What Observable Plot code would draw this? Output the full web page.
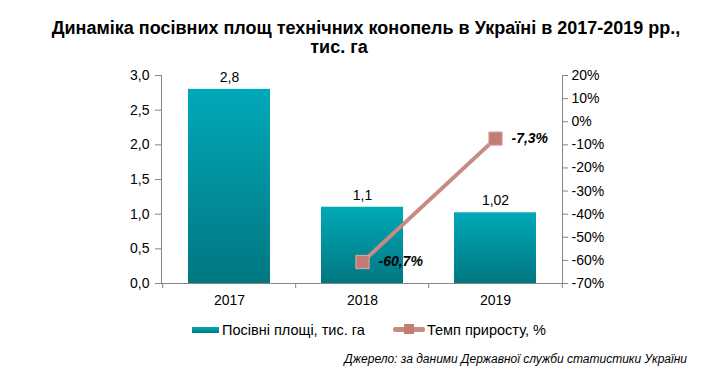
<!DOCTYPE html>
<html>
<head>
<meta charset="utf-8">
<script src="https://cdn.jsdelivr.net/npm/d3@7"></script>
<script src="https://cdn.jsdelivr.net/npm/@observablehq/plot@0.6"></script>
<style>
  html, body { margin: 0; padding: 0; background: #fff; }
  #wrap { position: relative; width: 713px; height: 371px; overflow: hidden; font-family: "Liberation Sans", Arial, sans-serif; color: #000; }
  .t { position: absolute; white-space: nowrap; font-weight: bold; font-size: 18px; line-height: 17px; text-align: center; }
  #chart { position: absolute; left: 0; top: 62px; }
  .leg { position: absolute; font-size: 14.5px; line-height: 15px; white-space: nowrap; }
  #cap { position: absolute; right: 26px; top: 353px; font-size: 12px; line-height: 12px; font-style: italic; letter-spacing: 0px; white-space: nowrap; }
</style>
</head>
<body>
<div id="wrap">
  <div class="t" style="left:0;width:732px;top:20px;">Динаміка посівних площ технічних конопель в Україні в 2017-2019 рр.,</div>
  <div class="t" style="left:0;width:678px;top:39px;">тис. га</div>
  <div id="chart"></div>
  <div id="legend"></div>
  <div id="cap">Джерело: за даними Державної служби статистики України</div>
</div>
<script>
const years = ["2017", "2018", "2019"];
const area = [2.8, 1.1, 1.02];
const areaLabels = ["2,8", "1,1", "1,02"];
const growthYears = ["2018", "2019"];
const growth = [-60.7, -7.3];
const growthLabels = ["-60,7%", "-7,3%"];
const leftTicks = [0, 0.5, 1, 1.5, 2, 2.5, 3];
const leftTickLabels = ["0,0", "0,5", "1,0", "1,5", "2,0", "2,5", "3,0"];
const rightTicks = [-70, -60, -50, -40, -30, -20, -10, 0, 10, 20];
const legendNames = ["Посівні площі, тис. га", "Темп приросту, %"];

const W = 713, H = 250, mt = 13, mb = 29, ml = 161, mr = 151;
const axisColor = "#868686";
const lineColor = "#c68b84";
const markerFill = "#c27c74";

const pct = d3.scaleLinear([-70, 20], [0, 3]);
const step = (W - ml - mr) / years.length;
const pxPerUnit = (H - mt - mb) / 3;

const bars = years.map((y, i) => ({year: y, value: area[i], label: areaLabels[i]}));
const rate = growthYears.map((y, i) => ({year: y, v: pct(growth[i]), label: growthLabels[i]}));

const defs = () => {
  const ns = "http://www.w3.org/2000/svg";
  const d = document.createElementNS(ns, "defs");
  d.innerHTML = '<linearGradient id="barGrad" x1="0" y1="0" x2="0" y2="1">' +
    '<stop offset="0" stop-color="#00a9b8"/><stop offset="1" stop-color="#007781"/></linearGradient>';
  return d;
};

const plot = Plot.plot({
  width: W, height: H,
  marginTop: mt, marginBottom: mb, marginLeft: ml, marginRight: mr,
  style: {fontFamily: '"Liberation Sans", Arial, sans-serif', fontSize: "14px", color: "#000", background: "transparent"},
  x: {type: "band", domain: years, paddingInner: 0.387, paddingOuter: 0.1935, axis: null, label: null},
  y: {domain: [0, 3], axis: null, label: null},
  marks: [
    defs,
    Plot.barY(bars, {x: "year", y: "value", fill: "url(#barGrad)"}),
    Plot.ruleY([0], {stroke: axisColor}),
    Plot.frame({anchor: "left", stroke: axisColor}),
    Plot.frame({anchor: "right", stroke: axisColor}),
    Plot.ruleX(years, {x: d => d, dx: -step / 2, y1: 0, y2: -5 / pxPerUnit, stroke: axisColor}),
    Plot.ruleX([years[years.length - 1]], {x: d => d, dx: step / 2, y1: 0, y2: -5 / pxPerUnit, stroke: axisColor}),
    Plot.axisX({domain: years, label: null, tickSize: 0, tickPadding: 12, fontSize: 14, fill: "#000"}),
    Plot.axisY({anchor: "left", label: null, ticks: leftTicks, tickFormat: (d, i) => leftTickLabels[leftTicks.indexOf(d)], tickSize: 6, tickPadding: 6, stroke: axisColor, fill: "#000", fontSize: 14}),
    Plot.axisY({anchor: "right", label: null, ticks: rightTicks.map(pct), tickFormat: d => Math.round(pct.invert(d)) + "%", tickSize: 5, tickPadding: 4, stroke: axisColor, fill: "#000", fontSize: 14}),
    Plot.text(bars, {x: "year", y: "value", text: "label", dy: -12, fontSize: 14, fill: "#000"}),
    Plot.line(rate, {x: "year", y: "v", stroke: lineColor, strokeWidth: 4}),
    Plot.dot(rate, {x: "year", y: "v", symbol: "square", r: 7.5, fill: markerFill, stroke: "#dcaaa4", strokeWidth: 1}),
    Plot.text(rate, {x: "year", y: "v", text: "label", dx: 16, textAnchor: "start", fontSize: 14, fontWeight: "bold", fontStyle: "italic", fill: "#000"})
  ]
});
document.getElementById("chart").appendChild(plot);

// Legend
const leg = document.getElementById("legend");
leg.innerHTML =
  '<div style="position:absolute;left:192px;top:327px;width:27px;height:6px;background:linear-gradient(#00a9b8,#007781);"></div>' +
  '<div class="leg" style="left:222px;top:323px;">' + legendNames[0] + '</div>' +
  '<div style="position:absolute;left:393px;top:327px;width:32px;height:5px;border-radius:2px;background:' + lineColor + ';"></div>' +
  '<div style="position:absolute;left:404px;top:324px;width:10px;height:10px;background:' + markerFill + ';"></div>' +
  '<div class="leg" style="left:427px;top:323px;">' + legendNames[1] + '</div>';
</script>
</body>
</html>
